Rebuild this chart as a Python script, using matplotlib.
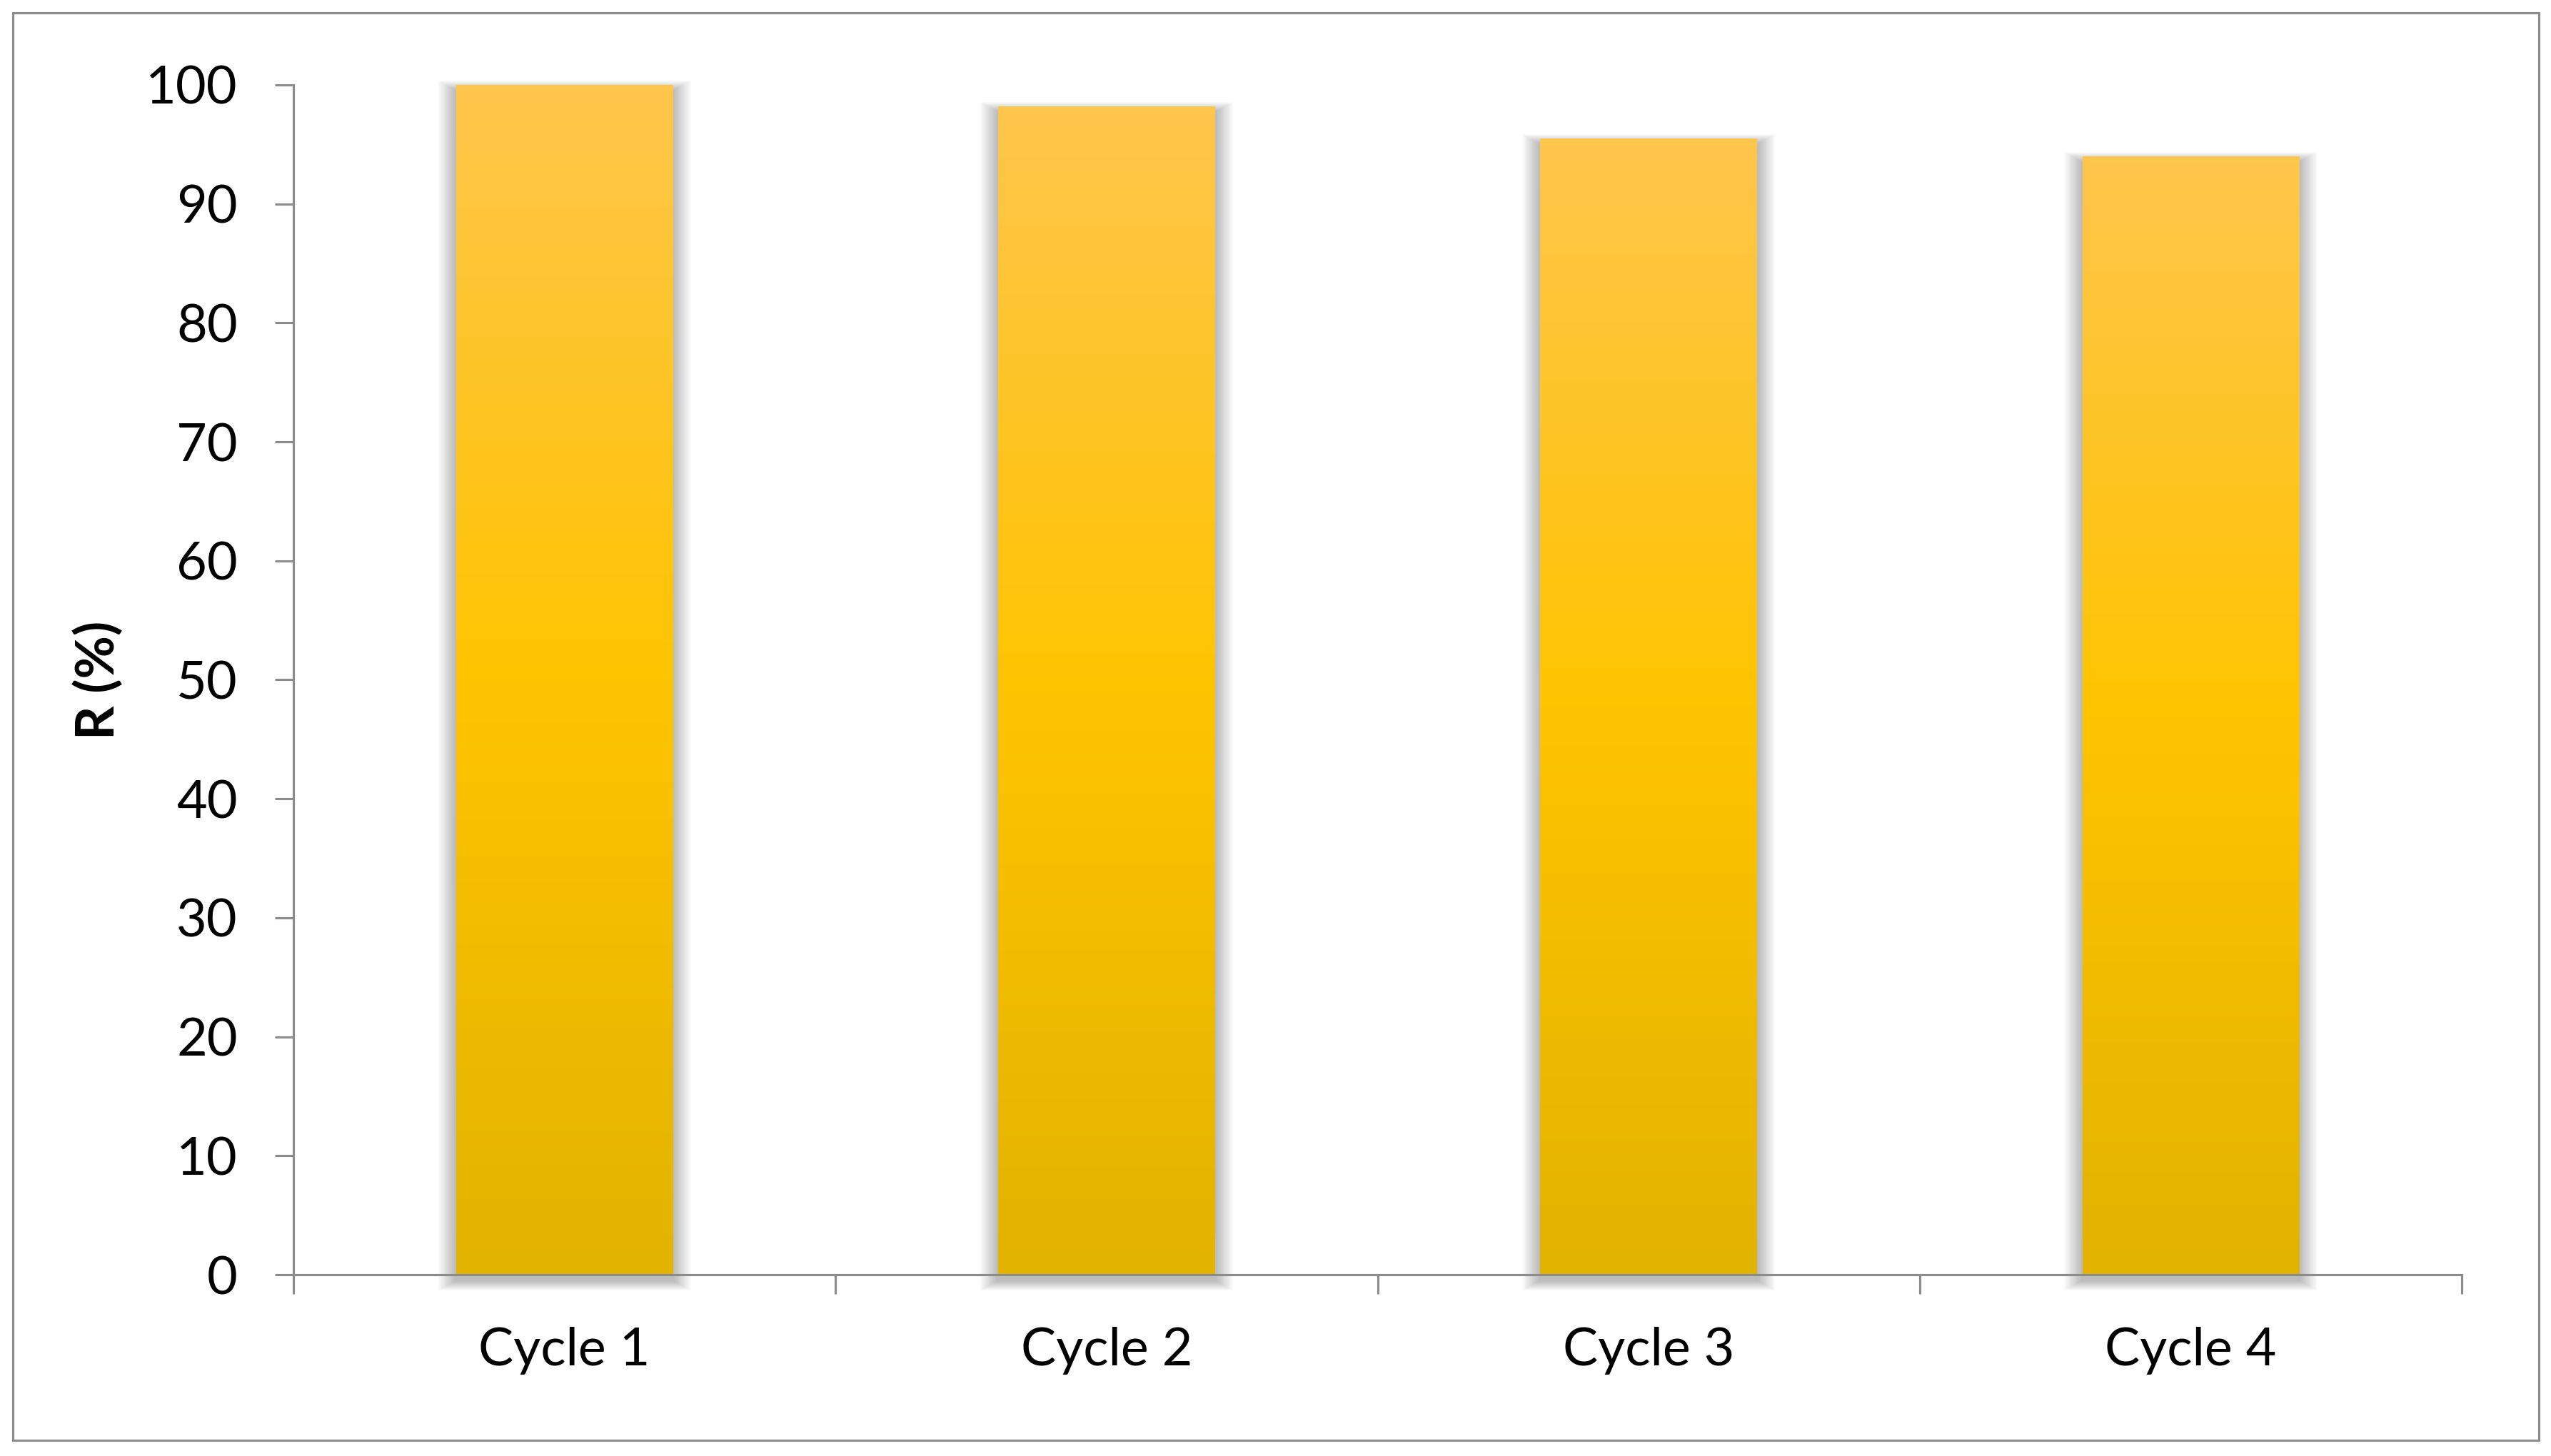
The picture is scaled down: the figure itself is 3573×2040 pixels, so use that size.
import numpy as np
import matplotlib
matplotlib.use("Agg")
import matplotlib.pyplot as plt
from matplotlib.colors import LinearSegmentedColormap
from matplotlib.patches import Rectangle

# ---- data ----
categories = ["Cycle 1", "Cycle 2", "Cycle 3", "Cycle 4"]
values = [100.0, 98.2, 95.5, 94.0]
yticks = [0, 10, 20, 30, 40, 50, 60, 70, 80, 90, 100]
ylabel = "R (%)"

W, H, DPI = 3573, 2040, 300
plt.rcParams['font.family'] = ['Lato', 'DejaVu Sans']
fig = plt.figure(figsize=(W / DPI, H / DPI), dpi=DPI)
fig.patch.set_facecolor("white")

ax_l, ax_r, ax_b, ax_t = 411, 3448, 1786, 119
ax = fig.add_axes([ax_l / W, 1 - ax_b / H, (ax_r - ax_l) / W, (ax_b - ax_t) / H])

x = np.arange(len(categories))
bar_w = 0.4
bars = ax.bar(x, values, width=bar_w, color="#FFC300", zorder=3, linewidth=0)

ax.set_xlim(-0.5, len(categories) - 0.5)
ax.set_ylim(0, 100)

# px -> data conversions
px_x = (len(categories)) / (ax_r - ax_l)
px_y = 100.0 / (ax_b - ax_t)

# soft shadow around bars (mostly at the sides, faint on top)
n_layers = 14
for b in bars:
    x0, w, h = b.get_x(), b.get_width(), b.get_height()
    for k in range(1, n_layers + 1):
        d = k * 1.8
        dv = k * 1.0
        off = 8
        r = Rectangle((x0 - d * px_x, -dv * px_y - off * px_y),
                      w + 2 * d * px_x, h + 2 * dv * px_y,
                      facecolor="black", edgecolor="none", alpha=0.02,
                      zorder=2, clip_on=False)
        ax.add_patch(r)

# vertical gradient fill
cmap = LinearSegmentedColormap.from_list(
    "g", [(0.0, "#E2B300"), (0.5, "#FFC400"), (1.0, "#FEC64C")])
grad = np.linspace(0, 1, 256).reshape(-1, 1)
for b in bars:
    x0, w, h = b.get_x(), b.get_width(), b.get_height()
    im = ax.imshow(grad, cmap=cmap, origin="lower", aspect="auto",
                   extent=(x0, x0 + w, 0, h), zorder=4, interpolation="bilinear")
    im.set_clip_path(b)
ax.set_xlim(-0.5, len(categories) - 0.5)
ax.set_ylim(0, 100)

# spines/ticks
gray = "#8C8C8C"
for s in ["top", "right"]:
    ax.spines[s].set_visible(False)
for s in ["left", "bottom"]:
    ax.spines[s].set_color(gray)
    ax.spines[s].set_linewidth(0.75)
    ax.spines[s].set_zorder(5)
ax.spines["left"].set_bounds(0, 100)

ax.set_yticks(yticks)
ax.set_yticklabels([str(v) for v in yticks])
ax.tick_params(axis="y", direction="out", length=6.3, width=0.75, color=gray,
               pad=12.5, labelsize=17.7, labelcolor="black")

ax.set_xticks(np.arange(-0.5, len(categories), 1.0))
ax.set_xticklabels([])
ax.set_xticks(x, minor=True)
ax.set_xticklabels(categories, minor=True)
ax.tick_params(axis="x", which="major", direction="out", length=6.5, width=0.75, color=gray)
ax.tick_params(axis="x", which="minor", length=0, pad=17.5, labelsize=17.7, labelcolor="black")

ax.set_ylabel(ylabel, fontsize=17.7, fontweight="bold")
ax.yaxis.set_label_coords((138 - ax_l) / (ax_r - ax_l), 0.5)
ax.yaxis.label.set_va("center")

ax.set_facecolor("white")

# outer frame
fl, fr, ft, fb = 18, 3556, 18, 2018
fig.add_artist(Rectangle((fl / W, 1 - fb / H), (fr - fl) / W, (fb - ft) / H,
                         transform=fig.transFigure, fill=False,
                         edgecolor=gray, linewidth=0.75))

fig.savefig("out.png", dpi=DPI)
